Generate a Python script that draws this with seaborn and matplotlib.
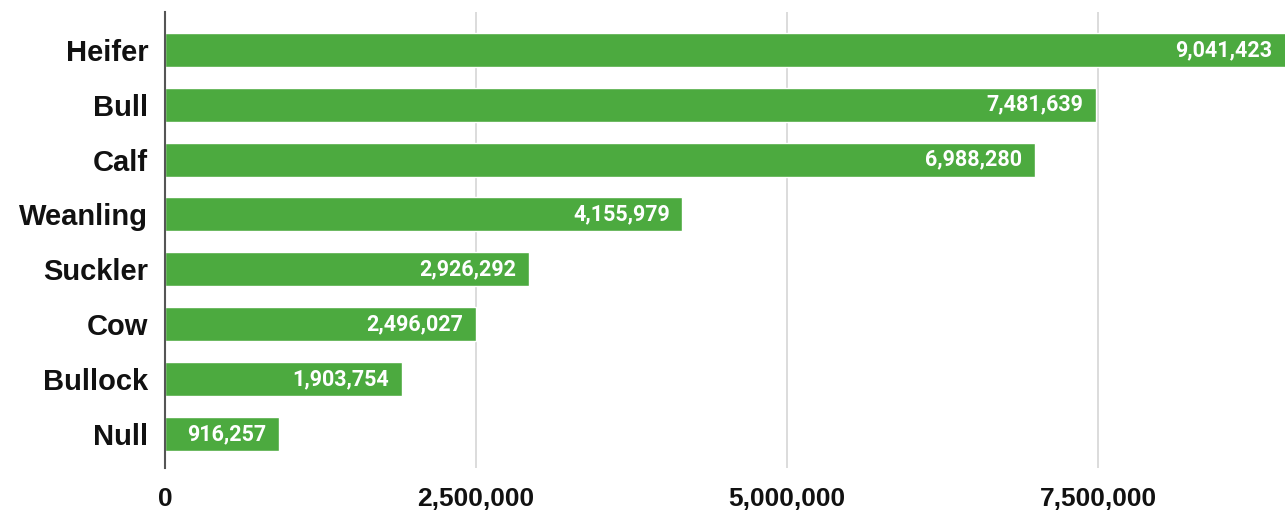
import matplotlib
matplotlib.use("Agg")
import matplotlib.pyplot as plt
import seaborn as sns
import pandas as pd
from matplotlib.ticker import FuncFormatter

categories = ["Heifer", "Bull", "Calf", "Weanling", "Suckler", "Cow", "Bullock", "Null"]
counts = [9041423, 7481639, 6988280, 4155979, 2926292, 2496027, 1903754, 916257]
x_ticks = [0, 2500000, 5000000, 7500000]

df = pd.DataFrame({"category": categories, "count": counts})

sns.set_theme(style="white")
plt.rcParams["font.family"] = ["Liberation Sans", "DejaVu Sans"]

fig = plt.figure(figsize=(12.85, 5.17), dpi=100)
ax = fig.add_axes([165 / 1285, 1 - 468 / 517, 1 - 165 / 1285, (468 - 12) / 517])

green = "#4caa3f"
sns.barplot(data=df, x="count", y="category", orient="h", color=green,
            width=0.62, ax=ax, saturation=1)

ax.set_xlim(0, 9.0e6)
ax.set_ylim(7.62, -0.69)
ax.set_xticks(x_ticks)
ax.xaxis.set_major_formatter(FuncFormatter(lambda v, p: f"{int(v):,}"))
ax.grid(axis="x", color="#d6d6d6", linewidth=1.2)
ax.set_axisbelow(True)
for s in ["top", "right", "bottom"]:
    ax.spines[s].set_visible(False)
ax.spines["left"].set_color("#555555")
ax.spines["left"].set_linewidth(1.5)
ax.set_xlabel("")
ax.set_ylabel("")
ax.tick_params(axis="y", length=0, pad=12, labelsize=21)
ax.tick_params(axis="x", length=0, pad=14, labelsize=19)
for t in ax.get_yticklabels() + ax.get_xticklabels():
    t.set_fontweight("bold")
    t.set_color("#111111")

for i, v in enumerate(counts):
    xv = min(v, 9.0e6)
    ax.annotate(f"{v:,}", xy=(xv, i), xytext=(-9, 0), textcoords="offset points",
                ha="right", va="center", color="white", fontsize=15.5,
                fontweight="bold", family=["Roboto", "DejaVu Sans"])

fig.savefig("out.png", dpi=100)
